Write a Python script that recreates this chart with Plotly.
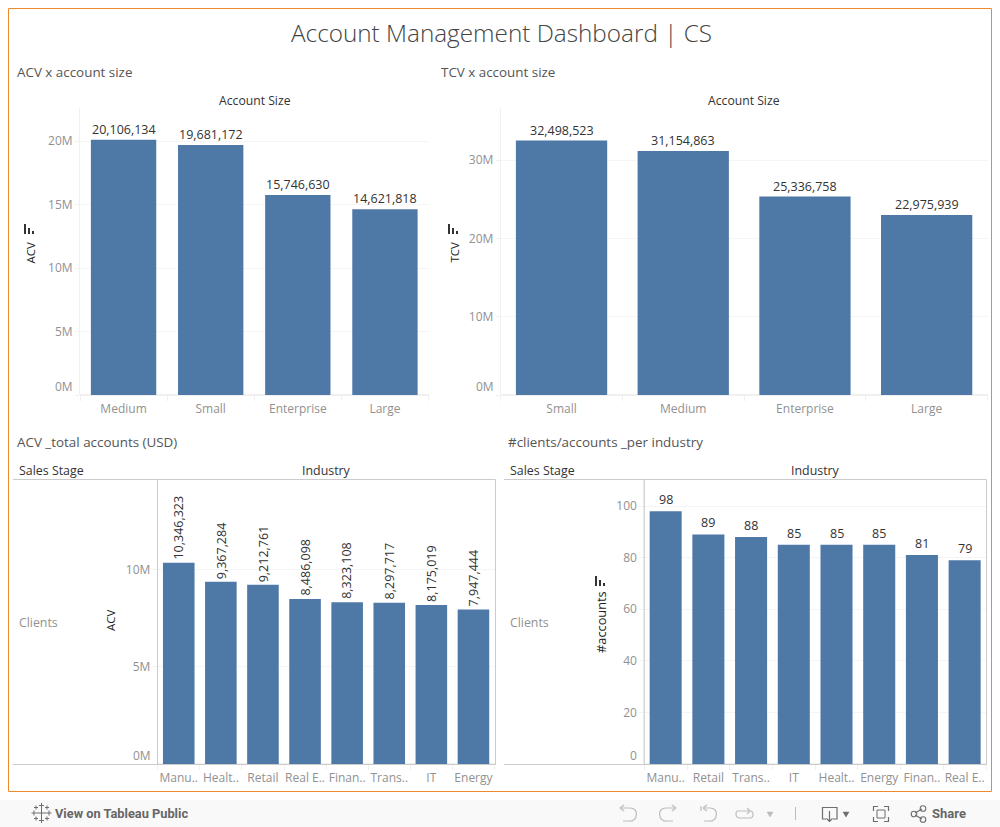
import re
import plotly.graph_objects as go

W, H = 1000, 827
FONT = "Open Sans"
BAR = "#4e79a7"
TICK = "#919191"
DARK = "#333333"
HAIR = "#f0f0f0"
BOX = "#cbcbcb"

# ---- data ----
size_acv_labels = ["Medium", "Small", "Enterprise", "Large"]
size_acv_values = [20106134, 19681172, 15746630, 14621818]
size_tcv_labels = ["Small", "Medium", "Enterprise", "Large"]
size_tcv_values = [32498523, 31154863, 25336758, 22975939]
ind_acv_labels = ["Manu..", "Healt..", "Retail", "Real E..", "Finan..", "Trans..", "IT", "Energy"]
ind_acv_values = [10346323, 9367284, 9212761, 8486098, 8323108, 8297717, 8175019, 7947444]
ind_cnt_labels = ["Manu..", "Retail", "Trans..", "IT", "Healt..", "Energy", "Finan..", "Real E.."]
ind_cnt_values = [98, 89, 88, 85, 85, 85, 81, 79]
ticks_acv = [0, 5e6, 10e6, 15e6, 20e6]
ticks_acv_text = ["0M", "5M", "10M", "15M", "20M"]
ticks_tcv = [0, 10e6, 20e6, 30e6]
ticks_tcv_text = ["0M", "10M", "20M", "30M"]
ticks_ind = [0, 5e6, 10e6]
ticks_ind_text = ["0M", "5M", "10M"]
ticks_cnt = [0, 20, 40, 60, 80, 100]
ticks_cnt_text = ["0", "20", "40", "60", "80", "100"]


def px(x):
    return x / W


def py(y):
    return 1 - y / H


def path(d):
    is_x = True

    def rep(m):
        nonlocal is_x
        v = float(m.group())
        s = f"{px(v):.5f}" if is_x else f"{py(v):.5f}"
        is_x = not is_x
        return s
    return re.sub(r"-?\d+\.?\d*", rep, d)


panels = [
    dict(labels=size_acv_labels, values=size_acv_values, tv=ticks_acv, tt=ticks_acv_text, lift=0,
         x0=80, x1=428.5, top=108, bot=395, ymax=22.6e6, angle=0, title="ACV", tx=30, ty=252.5, ts=11.5),
    dict(labels=size_tcv_labels, values=size_tcv_values, tv=ticks_tcv, tt=ticks_tcv_text, lift=0,
         x0=500.7, x1=987.5, top=108, bot=395, ymax=36.65e6, angle=0, title="TCV", tx=454, ty=252.5, ts=11.5),
    dict(labels=ind_acv_labels, values=ind_acv_values, tv=ticks_ind, tt=ticks_ind_text, lift=1,
         x0=157.7, x1=494.5, top=479.5, bot=764, ymax=14.63e6, angle=-90, title="ACV", tx=110, ty=620, ts=11.5),
    dict(labels=ind_cnt_labels, values=ind_cnt_values, tv=ticks_cnt, tt=ticks_cnt_text, lift=1,
         x0=644.3, x1=986, top=479.5, bot=764, ymax=110.3, angle=0, title="#accounts", tx=601, ty=622, ts=12.8),
]

fig = go.Figure()
ann = []
shapes = []


def text(x, y, s, size=12, color=DARK, anchor="left", angle=0, family=FONT, weight=None):
    f = dict(family=family, size=size, color=color)
    if weight:
        f["weight"] = weight
    if anchor == "left":
        x -= 2
    ann.append(dict(xref="paper", yref="paper", x=px(x), y=py(y), text=s, showarrow=False,
                    xanchor=anchor, yanchor="middle", textangle=angle, font=f))


for i, p in enumerate(panels, start=1):
    xa, ya = ("xaxis", "yaxis") if i == 1 else (f"xaxis{i}", f"yaxis{i}")
    xr, yr = ("x", "y") if i == 1 else (f"x{i}", f"y{i}")
    fig.add_bar(x=p["labels"], y=p["values"], xaxis=xr, yaxis=yr, marker=dict(color=BAR, line_width=0),
                cliponaxis=False, showlegend=False)
    for lab, v in zip(p["labels"], p["values"]):
        ann.append(dict(xref=xr, yref=yr, x=lab, y=v, text=f"{v:,}", showarrow=False, xanchor="center",
                        yanchor="bottom", yshift=p["lift"], textangle=p["angle"],
                        font=dict(family=FONT, size=12.5, color=DARK)))
    fig.update_layout({
        xa: dict(domain=[px(p["x0"]), px(p["x1"])], anchor=yr, type="category", range=[-0.5, len(p["labels"]) - 0.5],
                 tickson="boundaries", ticks="outside", ticklen=5, tickcolor=HAIR, showgrid=False,
                 showline=False, zeroline=False, tickangle=0, ticklabelstandoff=5,
                 tickfont=dict(family=FONT, size=12, color=TICK)),
        ya: dict(domain=[py(p["bot"]), py(p["top"])], anchor=xr, range=[0, p["ymax"]],
                 tickvals=p["tv"], ticktext=[""] + p["tt"][1:], ticks="outside", ticklen=4, tickcolor=HAIR,
                 showgrid=True, gridcolor="#f5f5f5", gridwidth=1, zeroline=True, zerolinecolor=HAIR,
                 showline=True, linecolor=HAIR, tickfont=dict(family=FONT, size=12, color=TICK)),
    })
    # lowest tick label sits above the baseline, as in the reference
    ann.append(dict(xref="paper", yref=yr, x=px(p["x0"] - 5), y=p["tv"][0], yshift=9, text=p["tt"][0],
                    showarrow=False, xanchor="right", yanchor="middle",
                    font=dict(family=FONT, size=12, color=TICK)))
    text(p["tx"], p["ty"], p["title"], size=p["ts"], color="#222222", anchor="center", angle=-90)

fig.update_layout(bargap=0.25)

# ---- texts ----
text(501, 32, "Account Management Dashboard | CS", size=24.3, color="#444444", anchor="center", weight=300)
text(17, 72.5, "ACV x account size", size=13.4, color="#555555")
text(441, 72.5, "TCV x account size", size=13.4, color="#555555")
text(17, 442.5, "ACV _total accounts (USD)", size=13.4, color="#555555")
text(508, 442.5, "#clients/accounts _per industry", size=13.4, color="#555555")
text(254.5, 100, "Account Size", size=12.2, anchor="center")
text(744, 100, "Account Size", size=12.2, anchor="center")
text(19, 471, "Sales Stage", size=12.4)
text(510, 471, "Sales Stage", size=12.4)
text(326, 470, "Industry", size=12.4, anchor="center")
text(815, 470, "Industry", size=12.4, anchor="center")
text(19, 622.5, "Clients", size=12.3, color=TICK)
text(510, 622.5, "Clients", size=12.3, color=TICK)
text(55, 813.5, "<b>View on Tableau Public</b>", size=12.8, color="#666666", family="Roboto")
text(932, 813.5, "<b>Share</b>", size=13, color="#666666", family="Roboto")


# ---- frame and boxes ----
def rect(x0, y0, x1, y1, fill=None, line=None, w=1):
    shapes.append(dict(type="rect", xref="paper", yref="paper", x0=px(x0), y0=py(y0), x1=px(x1), y1=py(y1),
                       fillcolor=fill or "rgba(0,0,0,0)",
                       line=dict(color=line or "rgba(0,0,0,0)", width=w if line else 0), layer="below"))


def line(x0, y0, x1, y1, color, w=1, layer="above"):
    shapes.append(dict(type="line", xref="paper", yref="paper", x0=px(x0), y0=py(y0), x1=px(x1), y1=py(y1),
                       line=dict(color=color, width=w), layer=layer))


def pth(d, color="#b5b5b5", w=1.2, fill=None):
    shapes.append(dict(type="path", xref="paper", yref="paper", path=path(d),
                       fillcolor=fill or "rgba(0,0,0,0)", line=dict(color=color, width=w)))


rect(0, 800, 1000, 827, fill="#f9f9f9")
rect(8.5, 8.5, 991.5, 791.5, line="#ee8a2a", w=1)

for left, vert, right in [(13, 157.5, 495.5), (504, 644.3, 986.5)]:
    line(left, 479.5, right, 479.5, BOX)
    line(left, 764.5, right, 764.5, BOX)
    line(vert, 479.5, vert, 764.5, BOX)
    line(right, 479.5, right, 764.5, BOX)

# sort indicators
for sx, sy in [(24, 234), (448, 234), (595, 586)]:
    rect(sx, sy - 10, sx + 2, sy, fill="#333333")
    rect(sx + 4, sy - 6, sx + 6, sy, fill="#333333")
    rect(sx + 8, sy - 3, sx + 10, sy, fill="#333333")

# ---- toolbar icons ----
g = "#6e6e6e"
for cx, cy, r in [(41.5, 813, 5), (41.5, 805.5, 2.5), (41.5, 820.5, 2.5), (34, 813, 2.5), (49, 813, 2.5),
                  (36, 807.5, 2), (47, 807.5, 2), (36, 818.5, 2), (47, 818.5, 2)]:
    line(cx - r, cy, cx + r, cy, g, 1)
    line(cx, cy - r, cx, cy + r, g, 1)

off = "#bdbdbd"
pth("M 620 808 L 630 808 C 640 808 637 822 630 821 L 623 821", off)
pth("M 620 808 L 624 805 M 620 808 L 624 811", off)
pth("M 676 808 L 666 808 C 656 808 659 822 666 821 L 673 821", off)
pth("M 676 808 L 672 805 M 676 808 L 672 811", off)
pth("M 701 806 L 701 811 M 703 808 L 710 808 C 720 808 717 822 710 821 L 704 821", off)
pth("M 703 808 L 707 805 M 703 808 L 707 811", off)
pth("M 738 811 L 750 811 C 754 811 754 818 750 818 L 740 818 C 735 818 735 811 738 811", off)
pth("M 750 811 L 747 808 M 750 811 L 747 814", off)
pth("M 767 812 L 773 812 L 770 817 Z", off, 0.5, off)
line(795.5, 807, 795.5, 820, off)
pth("M 826 819 L 822.5 819 L 822.5 807.5 L 837 807.5 L 837 819 L 833 819", g)
pth("M 829.5 811 L 829.5 821 M 826.5 818.5 L 829.5 821.5 L 832.5 818.5", g)
pth("M 843 812 L 849 812 L 846 817 Z", g, 0.5, g)
pth("M 873.5 811 L 873.5 806.5 L 878 806.5 M 884 806.5 L 888.5 806.5 L 888.5 811 "
    "M 888.5 817 L 888.5 821.5 L 884 821.5 M 878 821.5 L 873.5 821.5 L 873.5 817", g)
rect(877, 810, 885, 818, line=g)
pth("M 915 813 L 922 809 M 915 815 L 922 819", g)
for cx, cy, r in [(914, 814, 2.8), (923, 808.5, 2.8), (923, 819.5, 2.8)]:
    shapes.append(dict(type="circle", xref="paper", yref="paper", x0=px(cx - r), x1=px(cx + r),
                       y0=py(cy + r), y1=py(cy - r), line=dict(color=g, width=1.1)))

fig.update_layout(width=W, height=H, margin=dict(l=0, r=0, t=0, b=0), paper_bgcolor="white",
                  plot_bgcolor="white", annotations=ann, shapes=shapes, showlegend=False,
                  font=dict(family=FONT))
fig.write_html("out.html", config=dict(displayModeBar=False),
               post_script="document.documentElement.style.overflow='hidden';"
                           "document.body.style.margin='0';"
                           "var gd=document.getElementById('{plot_id}');"
                           "gd.style.width='1000px';gd.style.height='827px';"
                           "Plotly.relayout(gd,{width:1000,height:827});")
